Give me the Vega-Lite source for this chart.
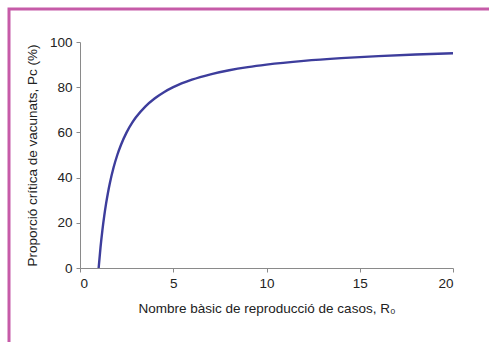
{
  "$schema": "https://vega.github.io/schema/vega-lite/v6.json",
  "autosize": {"type": "none"},
  "width": 486,
  "height": 339,
  "padding": {"left": 9, "top": 9, "right": -6, "bottom": -6},
  "background": "white",
  "config": {
    "view": {"stroke": "#c65ba8", "strokeWidth": 3, "fill": "white"},
    "font": "Liberation Sans",
    "axis": {
      "domainColor": "#8a8a8a",
      "tickColor": "#8a8a8a",
      "tickSize": 4,
      "grid": false,
      "labelFont": "Liberation Sans",
      "labelFontSize": 13.5,
      "labelColor": "#222222",
      "titleFont": "Liberation Sans",
      "titleFontSize": 13.5,
      "titleFontWeight": "normal",
      "titleColor": "#222222"
    }
  },
  "data": {
    "values": [
      {"R0": 1, "Pc": 0},
      {"R0": 1.1, "Pc": 9.09},
      {"R0": 1.2, "Pc": 16.67},
      {"R0": 1.3, "Pc": 23.08},
      {"R0": 1.4, "Pc": 28.57},
      {"R0": 1.5, "Pc": 33.33},
      {"R0": 1.6, "Pc": 37.5},
      {"R0": 1.8, "Pc": 44.44},
      {"R0": 2, "Pc": 50},
      {"R0": 2.2, "Pc": 54.55},
      {"R0": 2.5, "Pc": 60},
      {"R0": 2.8, "Pc": 64.29},
      {"R0": 3, "Pc": 66.67},
      {"R0": 3.5, "Pc": 71.43},
      {"R0": 4, "Pc": 75},
      {"R0": 4.5, "Pc": 77.78},
      {"R0": 5, "Pc": 80},
      {"R0": 6, "Pc": 83.33},
      {"R0": 7, "Pc": 85.71},
      {"R0": 8, "Pc": 87.5},
      {"R0": 9, "Pc": 88.89},
      {"R0": 10, "Pc": 90},
      {"R0": 12, "Pc": 91.67},
      {"R0": 14, "Pc": 92.86},
      {"R0": 16, "Pc": 93.75},
      {"R0": 18, "Pc": 94.44},
      {"R0": 20, "Pc": 95}
    ]
  },
  "mark": {"type": "line", "color": "#3d3d9c", "strokeWidth": 2.4, "interpolate": "monotone"},
  "encoding": {
    "x": {
      "field": "R0",
      "type": "quantitative",
      "scale": {"domain": [0, 20], "range": [71, 444], "nice": false},
      "axis": {
        "values": [0, 5, 10, 15, 20],
        "offset": -80,
        "title": "Nombre bàsic de reproducció de casos, R₀",
        "titlePadding": 12,
        "labelPadding": 4
      }
    },
    "y": {
      "field": "Pc",
      "type": "quantitative",
      "scale": {"domain": [0, 100], "range": [259, 33], "nice": false},
      "axis": {
        "values": [0, 20, 40, 60, 80, 100],
        "offset": -71,
        "title": "Proporció crítica de vacunats, Pc (%)",
        "titlePadding": 10,
        "labelPadding": 4
      }
    }
  }
}
